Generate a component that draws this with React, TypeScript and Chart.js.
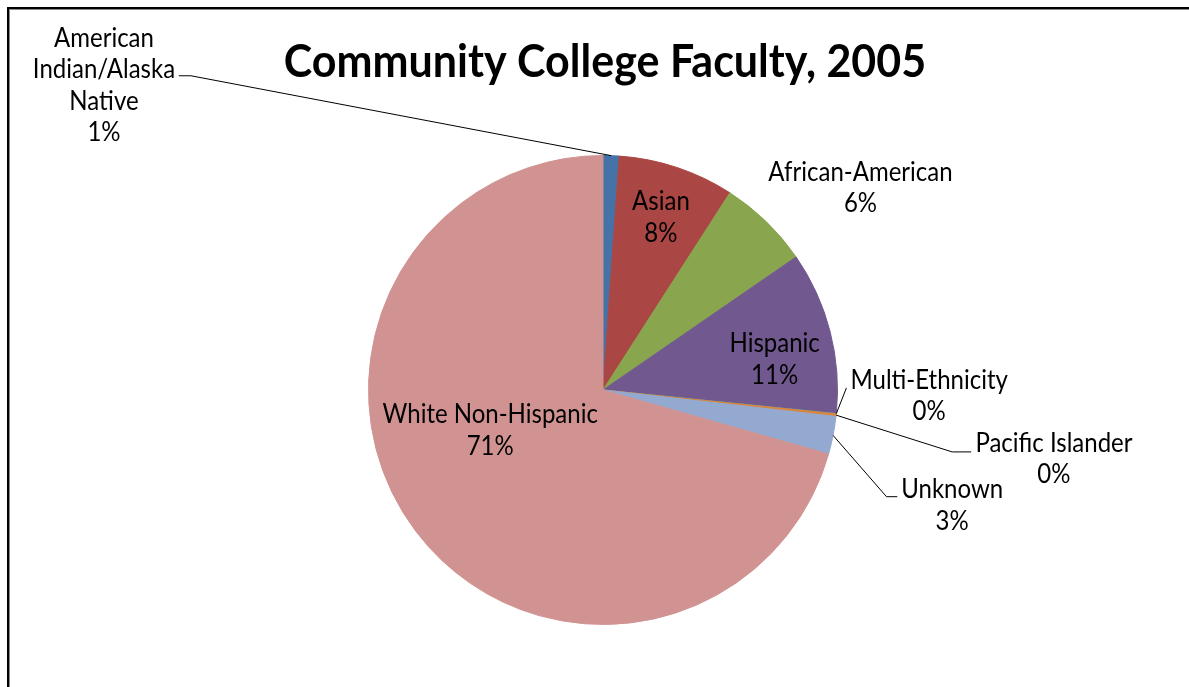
import React, { useEffect, useRef } from "react";
import { Chart, registerables } from "chart.js";

Chart.register(...registerables);

const TITLE = "Community College Faculty, 2005";
const CATEGORIES = [
  "American Indian/Alaska Native",
  "Asian",
  "African-American",
  "Hispanic",
  "Multi-Ethnicity",
  "Pacific Islander",
  "Unknown",
  "White Non-Hispanic",
];
const LABEL_LINES = [
  ["American", "Indian/Alaska", "Native"],
  ["Asian"],
  ["African-American"],
  ["Hispanic"],
  ["Multi-Ethnicity"],
  ["Pacific Islander"],
  ["Unknown"],
  ["White Non-Hispanic"],
];
const SHARES = [1.1, 8.0, 6.3, 11.2, 0.02, 0.18, 2.6, 70.6];
const COLORS = [
  "#4572A7",
  "#AA4643",
  "#89A54E",
  "#71588F",
  "#4198AF",
  "#DB843D",
  "#93A9CF",
  "#D19392",
];

// label placement in units of the pie radius, relative to the pie centre
const LABEL_LAYOUT: { dx: number; dy: number; leader?: number[][] }[] = [
  { dx: -2.128, dy: -1.302, leader: [[-1.757, -1.34], [-1.809, -1.34]] },
  { dx: 0.247, dy: -0.74 },
  { dx: 1.098, dy: -0.866 },
  { dx: 0.732, dy: -0.134 },
  { dx: 1.391, dy: 0.021, leader: [[1.038, -0.009]] },
  { dx: 1.923, dy: 0.291, leader: [[1.489, 0.264], [1.57, 0.264]] },
  { dx: 1.489, dy: 0.489, leader: [[1.209, 0.455], [1.255, 0.455]] },
  { dx: -0.481, dy: 0.168 },
];

const LABEL_FONT = "24px Lato";
const LABEL_VSCALE = 1.1;
const TITLE_FONT = "bold 43px Lato";
const TITLE_VSCALE = 1.08;
const LINE_H = 31.5;
const CAP_H = 19;

function drawScaledText(
  ctx: CanvasRenderingContext2D,
  text: string,
  x: number,
  y: number,
  font: string,
  vscale: number
) {
  ctx.save();
  ctx.font = font;
  ctx.textAlign = "center";
  ctx.textBaseline = "alphabetic";
  ctx.translate(x, y);
  ctx.scale(1, vscale);
  ctx.fillText(text, 0, 0);
  ctx.restore();
}

const decorPlugin = {
  id: "decor",
  afterDatasetsDraw(chart: any) {
    const ctx: CanvasRenderingContext2D = chart.ctx;
    const W = chart.width;
    const H = chart.height;
    // frame
    ctx.save();
    ctx.fillStyle = "#000";
    ctx.fillRect(7, 7, W - 7, 2);
    ctx.fillRect(7, 7, 2, H - 7);
    ctx.fillStyle = "#8a8a8a";
    ctx.fillRect(9, 9, W - 9, 1);
    ctx.fillRect(9, 9, 1, H - 9);
    ctx.restore();

    // title
    ctx.save();
    ctx.fillStyle = "#000";
    drawScaledText(ctx, TITLE, 605, 77, TITLE_FONT, TITLE_VSCALE);
    ctx.restore();

    const meta = chart.getDatasetMeta(0);
    const data = chart.data.datasets[0].data as number[];
    const total = data.reduce((a, b) => a + b, 0);
    ctx.save();
    ctx.fillStyle = "#000";
    ctx.strokeStyle = "#000";
    ctx.lineWidth = 1;
    meta.data.forEach((arc: any, i: number) => {
      const { x, y, startAngle, endAngle, outerRadius } = arc.getProps(
        ["x", "y", "startAngle", "endAngle", "outerRadius"],
        true
      );
      const r = outerRadius;
      const lay = LABEL_LAYOUT[i];
      const mid = (startAngle + endAngle) / 2;
      if (lay.leader) {
        ctx.beginPath();
        ctx.moveTo(x + Math.cos(mid) * r, y + Math.sin(mid) * r);
        lay.leader.forEach((p) => ctx.lineTo(x + p[0] * r, y + p[1] * r));
        ctx.stroke();
      }
      const lines = [...LABEL_LINES[i], Math.round((data[i] / total) * 100) + "%"];
      const cx = x + lay.dx * r;
      const cy = y + lay.dy * r;
      const top = cy - ((lines.length - 1) * LINE_H) / 2;
      lines.forEach((t, k) => {
        drawScaledText(ctx, t, cx, top + k * LINE_H + CAP_H / 2, LABEL_FONT, LABEL_VSCALE);
      });
    });
    ctx.restore();
  },
};

export default function App() {
  const ref = useRef<HTMLCanvasElement>(null);
  useEffect(() => {
    document.body.style.margin = "0";
    const canvas = ref.current!;
    const chart = new Chart(canvas, {
      type: "pie",
      data: {
        labels: CATEGORIES,
        datasets: [
          {
            data: SHARES,
            backgroundColor: COLORS,
            borderColor: COLORS,
            borderWidth: 1,
          },
        ],
      },
      options: {
        animation: false,
        responsive: false,
        devicePixelRatio: 1,
        layout: { padding: { left: 368, right: 351, top: 155, bottom: 62 } },
        plugins: {
          legend: { display: false },
          tooltip: { enabled: false },
          title: { display: false },
        },
      },
      plugins: [decorPlugin],
    });
    return () => chart.destroy();
  }, []);
  return (
    <div style={{ width: 1189, height: 687, background: "#fff" }}>
      <canvas ref={ref} width={1189} height={687} style={{ display: "block" }} />
    </div>
  );
}
